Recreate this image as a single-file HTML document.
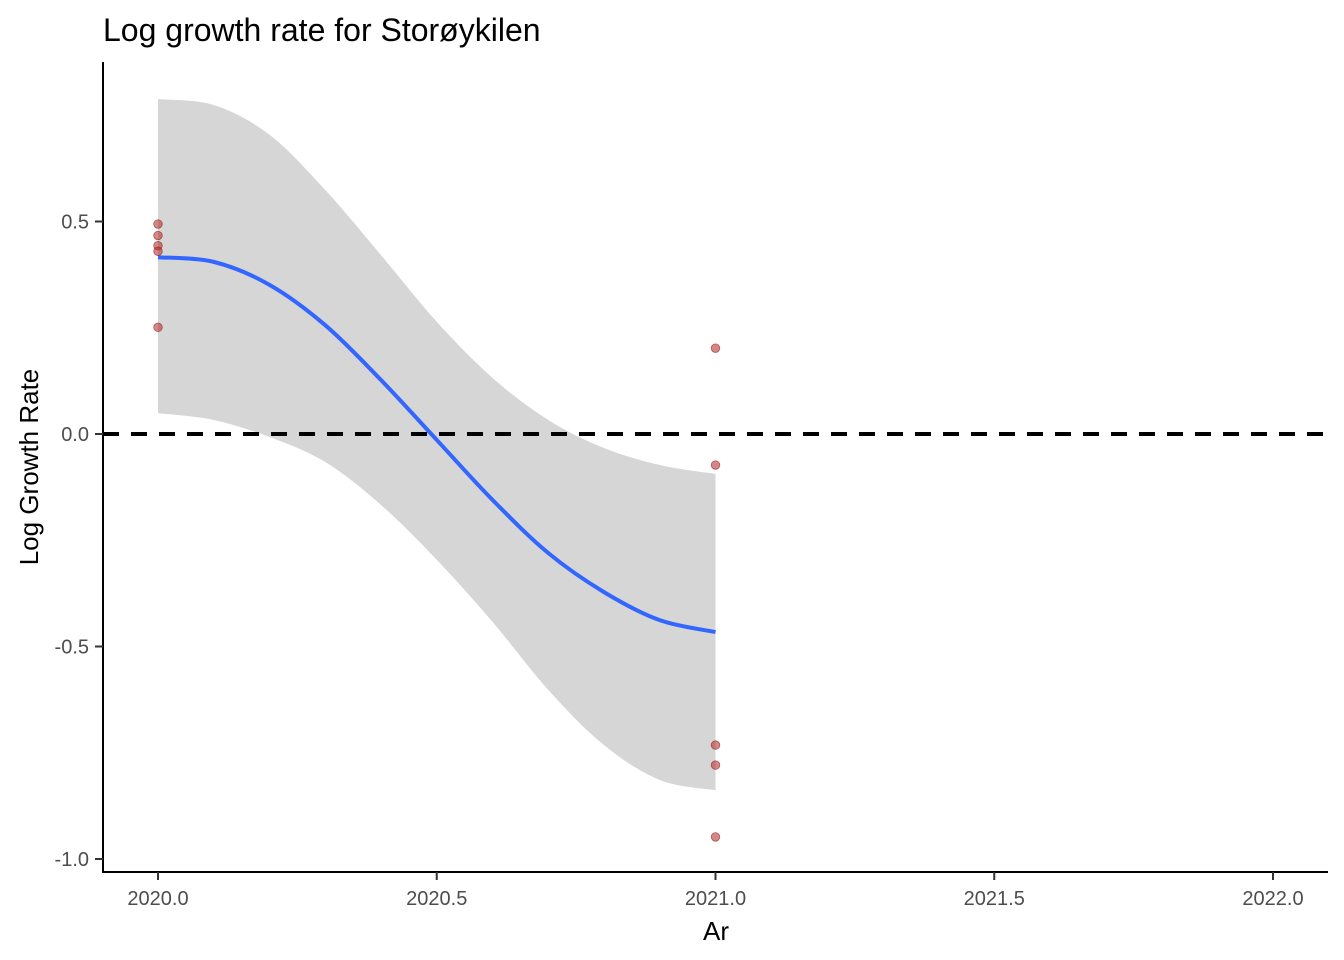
<!DOCTYPE html>
<html><head><meta charset="utf-8"><style>
html,body{margin:0;padding:0;background:#fff;}
svg{display:block;font-family:"Liberation Sans",Arial,sans-serif;}
</style></head><body>
<svg id="chart" width="1344" height="960" viewBox="0 0 1344 960">
<text x="103" y="41" font-size="32" fill="#000">Log growth rate for Storøykilen</text>
<g id="plot"></g>
<text x="716" y="940" font-size="26" text-anchor="middle" fill="#000">Ar</text>
<text transform="translate(38,467) rotate(-90)" font-size="26" text-anchor="middle" fill="#000">Log Growth Rate</text>
</svg>
<script>
const pointX = [2020,2020,2020,2020,2020,2021,2021,2021,2021,2021];
const pointY = [0.494,0.467,0.443,0.430,0.251,0.202,-0.073,-0.732,-0.779,-0.948];
const smoothX = [2020.0,2020.1,2020.2,2020.3,2020.4,2020.5,2020.6,2020.7,2020.8,2020.9,2021.0];
const smoothFit = [0.416,0.405,0.351,0.256,0.127,-0.014,-0.155,-0.280,-0.372,-0.438,-0.466];
const smoothUpper = [0.788,0.774,0.704,0.574,0.421,0.264,0.132,0.033,-0.033,-0.073,-0.094];
const smoothLower = [0.049,0.033,-0.007,-0.066,-0.167,-0.296,-0.442,-0.602,-0.732,-0.814,-0.838];
const xTicks = [2020.0,2020.5,2021.0,2021.5,2022.0];
const xTickLabels = ["2020.0","2020.5","2021.0","2021.5","2022.0"];
const yTicks = [0.5,0.0,-0.5,-1.0];
const yTickLabels = ["0.5","0.0","-0.5","-1.0"];

const NS="http://www.w3.org/2000/svg";
const sx = v => 158 + (v-2020)*557.5;
const sy = v => 434 - v*425;
const g = document.getElementById('plot');
function mk(tag, attrs){const e=document.createElementNS(NS,tag);for(const k in attrs)e.setAttribute(k,attrs[k]);g.appendChild(e);return e;}
function smoothPath(pts){
  let d="M"+pts[0][0]+","+pts[0][1];
  for(let i=0;i<pts.length-1;i++){
    const p0=pts[Math.max(i-1,0)],p1=pts[i],p2=pts[i+1],p3=pts[Math.min(i+2,pts.length-1)];
    const c1=[p1[0]+(p2[0]-p0[0])/6,p1[1]+(p2[1]-p0[1])/6];
    const c2=[p2[0]-(p3[0]-p1[0])/6,p2[1]-(p3[1]-p1[1])/6];
    d+=" C"+c1[0]+","+c1[1]+" "+c2[0]+","+c2[1]+" "+p2[0]+","+p2[1];
  }
  return d;
}
const up = smoothX.map((x,i)=>[sx(x),sy(smoothUpper[i])]);
const lo = smoothX.map((x,i)=>[sx(x),sy(smoothLower[i])]).reverse();
let rd = smoothPath(up) + " L" + lo[0][0]+","+lo[0][1] + smoothPath(lo).replace(/^M[^ ]+/,"") + " Z";
const rib = mk('path',{d:rd,fill:'#d6d6d6',stroke:'none'});


const zl = mk('line',{x1:103,x2:1328,y1:sy(0),y2:sy(0),stroke:'#000','stroke-width':4,'stroke-dasharray':'16,12'});


const fl = mk('path',{d:smoothPath(smoothX.map((x,i)=>[sx(x),sy(smoothFit[i])])),fill:'none',stroke:'#3366ff','stroke-width':4});


pointX.forEach((x,i)=>{
  const c = mk('circle',{cx:sx(x),cy:sy(pointY[i]),r:4.3,fill:'rgba(178,34,34,0.55)',stroke:'rgba(140,20,20,0.6)','stroke-width':0.8});
  
  
});
const ya = mk('line',{x1:103,x2:103,y1:62,y2:873,stroke:'#000','stroke-width':2});


const xa = mk('line',{x1:102,x2:1328,y1:872,y2:872,stroke:'#000','stroke-width':2});


yTicks.forEach((v,i)=>{
  const t = mk('line',{x1:95,x2:103,y1:sy(v),y2:sy(v),stroke:'#333','stroke-width':2});
  
  
  const l = mk('text',{x:89,y:sy(v)+7,'text-anchor':'end','font-size':20,fill:'#4d4d4d'});
  l.textContent = yTickLabels[i];
  
  
});
xTicks.forEach((v,i)=>{
  const t = mk('line',{x1:sx(v),x2:sx(v),y1:872,y2:880,stroke:'#333','stroke-width':2});
  
  
  const l = mk('text',{x:sx(v),y:905,'text-anchor':'middle','font-size':20,fill:'#4d4d4d'});
  l.textContent = xTickLabels[i];
  
  
});
</script>
</body></html>
